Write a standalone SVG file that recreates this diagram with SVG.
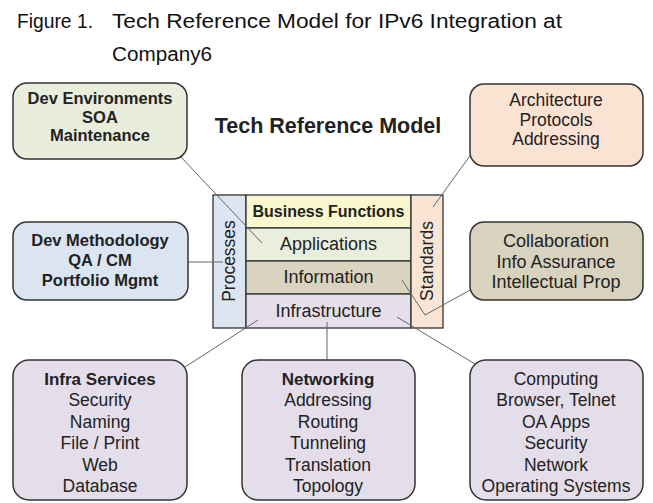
<svg xmlns="http://www.w3.org/2000/svg" width="653" height="503" viewBox="0 0 653 503">
<style>
text{font-family:"Liberation Sans",Arial,sans-serif;fill:#222;text-anchor:middle}
.t{font-size:20px;text-anchor:start;fill:#111}
.b1{font-size:16.5px;font-weight:700}
.b2{font-size:17.5px}
.b4{font-size:18px}
.s{font-size:17.5px}
.st{font-size:18px}
.sm{font-size:16px;font-weight:700}
.h{font-size:17px;font-weight:700}
.box{stroke:#333;stroke-width:1.5}
.cell{stroke:#333;stroke-width:1.3}
.c{stroke:#666;stroke-width:1;fill:none}
</style>
<rect width="653" height="503" fill="#fff"/>
<g id="caption">
<text class="t" x="17" y="28" textLength="76" lengthAdjust="spacingAndGlyphs">Figure 1.</text>
<text class="t" x="112" y="28" textLength="450" lengthAdjust="spacingAndGlyphs">Tech Reference Model for IPv6 Integration at</text>
<text class="t" x="112" y="61" textLength="100" lengthAdjust="spacingAndGlyphs">Company6</text>
</g>
<text x="328" y="133" font-size="21.5" font-weight="700">Tech Reference Model</text>
<g id="stack">
<g id="processes"><rect class="cell" x="213" y="195" width="33" height="133" fill="#DCE6F1"/><text class="s" transform="translate(235,261) rotate(-90)">Processes</text></g>
<g id="business"><rect class="cell" x="246" y="195" width="165" height="33" fill="#F9F7CD"/><text class="sm" x="328.5" y="217">Business Functions</text></g>
<g id="applications"><rect class="cell" x="246" y="228" width="165" height="33" fill="#E9EEDD"/><text class="st" x="328.5" y="250">Applications</text></g>
<g id="information"><rect class="cell" x="246" y="261" width="165" height="33" fill="#D9D3BF"/><text class="st" x="328.5" y="283">Information</text></g>
<g id="infrastructure"><rect class="cell" x="246" y="294" width="165" height="34" fill="#E5DFEC"/><text class="st" x="328.5" y="317">Infrastructure</text></g>
<g id="standards"><rect class="cell" x="411" y="195" width="32" height="133" fill="#FAE5D5"/><text class="s" transform="translate(433,261) rotate(-90)">Standards</text></g>
</g>
<g id="connectors">
<path class="c" d="M180,156 L262,243"/>
<path class="c" d="M188,262 L223,262"/>
<path class="c" d="M472,153 L433,207"/>
<path class="c" d="M402,280 L425,315 L472,289"/>
<path class="c" d="M258,320 L185,367"/>
<path class="c" d="M327,322 L327,361"/>
<path class="c" d="M397,317 L475,364"/>
</g>
<g id="dev-env"><rect class="box" x="13" y="83" width="174" height="76" rx="14" fill="#E9EDDC"/>
<text class="b1" x="100" y="104">Dev Environments</text><text class="b1" x="100" y="122.5">SOA</text><text class="b1" x="100" y="141">Maintenance</text></g>
<g id="architecture"><rect class="box" x="470" y="84" width="173" height="82" rx="14" fill="#FAE3D2"/>
<text class="b2" x="556" y="106">Architecture</text><text class="b2" x="556" y="125.6">Protocols</text><text class="b2" x="556" y="145.2">Addressing</text></g>
<g id="dev-method"><rect class="box" x="13" y="222" width="175" height="78" rx="14" fill="#DBE5F1"/>
<text class="b1" x="100" y="246">Dev Methodology</text><text class="b1" x="100" y="266">QA / CM</text><text class="b1" x="100" y="286">Portfolio Mgmt</text></g>
<g id="collaboration"><rect class="box" x="470" y="222" width="173" height="78" rx="14" fill="#D8D3BE"/>
<text class="b4" x="556" y="247">Collaboration</text><text class="b4" x="556" y="267.5">Info Assurance</text><text class="b4" x="556" y="288">Intellectual Prop</text></g>
<g id="infra-services"><rect class="box" x="13" y="360" width="174" height="140" rx="16" fill="#E4DEEA"/>
<text class="h" x="100" y="385">Infra Services</text><text class="s" x="100" y="406.4">Security</text><text class="s" x="100" y="427.8">Naming</text><text class="s" x="100" y="449.2">File / Print</text><text class="s" x="100" y="470.6">Web</text><text class="s" x="100" y="492">Database</text></g>
<g id="networking"><rect class="box" x="242" y="360" width="173" height="140" rx="16" fill="#E4DEEA"/>
<text class="h" x="328" y="385">Networking</text><text class="s" x="328" y="406.4">Addressing</text><text class="s" x="328" y="427.8">Routing</text><text class="s" x="328" y="449.2">Tunneling</text><text class="s" x="328" y="470.6">Translation</text><text class="s" x="328" y="492">Topology</text></g>
<g id="computing"><rect class="box" x="470" y="360" width="173" height="140" rx="16" fill="#E4DEEA"/>
<text class="s" x="556" y="385">Computing</text><text class="s" x="556" y="406.4">Browser, Telnet</text><text class="s" x="556" y="427.8">OA Apps</text><text class="s" x="556" y="449.2">Security</text><text class="s" x="556" y="470.6">Network</text><text class="s" x="556" y="492">Operating Systems</text></g>
</svg>
